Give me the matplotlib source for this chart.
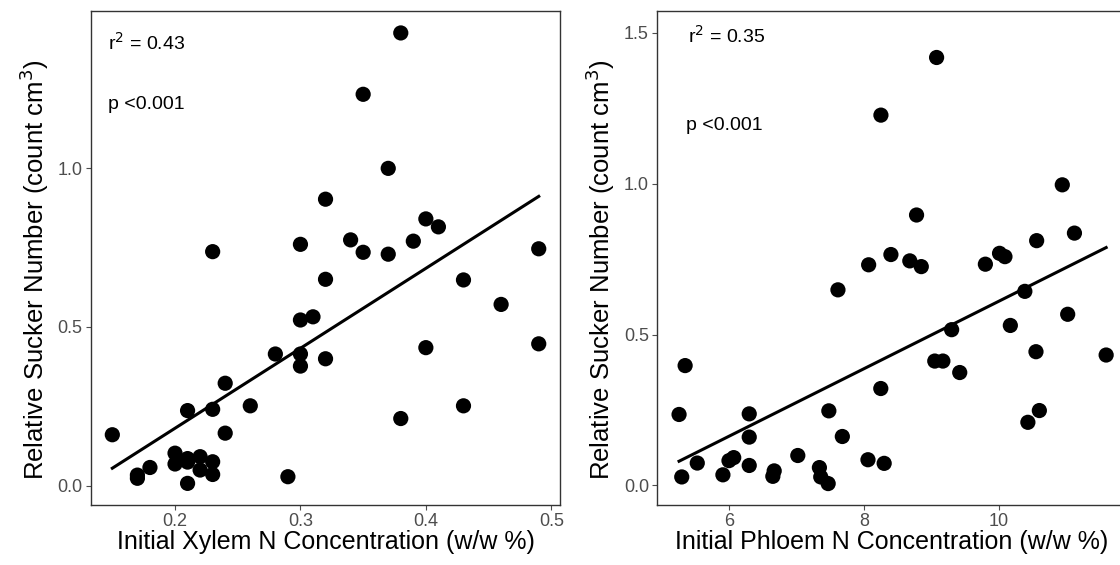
"""Relative sucker number vs initial xylem / phloem N concentration"""

import numpy as np
import matplotlib.pyplot as plt

plt.rcParams['font.family'] = ['Liberation Sans', 'DejaVu Sans']

# xylem panel
xylem_n = [0.380, 0.350, 0.370, 0.320, 0.400, 0.410, 0.230, 0.300, 0.340, 0.350,
           0.370, 0.390, 0.490, 0.320, 0.430, 0.460, 0.300, 0.310, 0.400, 0.490,
           0.280, 0.300, 0.300, 0.320, 0.240, 0.210, 0.230, 0.260, 0.430, 0.380,
           0.150, 0.240, 0.200, 0.200, 0.210, 0.210, 0.220, 0.220, 0.230, 0.230,
           0.180, 0.170, 0.170, 0.210, 0.290]
xylem_sucker = [1.425, 1.232, 0.999, 0.902, 0.840, 0.815, 0.737, 0.760, 0.774, 0.735,
                0.729, 0.770, 0.746, 0.650, 0.648, 0.571, 0.522, 0.532, 0.435, 0.447,
                0.415, 0.415, 0.377, 0.400, 0.323, 0.237, 0.241, 0.252, 0.252, 0.212,
                0.161, 0.166, 0.103, 0.069, 0.086, 0.075, 0.092, 0.050, 0.076, 0.036,
                0.058, 0.034, 0.024, 0.008, 0.029]

# phloem panel
phloem_n = [9.077, 8.252, 10.94, 8.78, 11.12, 10.56, 8.07, 8.40, 8.68, 8.85,
            9.80, 10.01, 10.09, 7.615, 10.385, 11.02, 10.17, 9.30, 10.55, 11.59,
            9.05, 9.17, 9.42, 5.35, 8.25, 5.26, 6.30, 7.48, 10.60, 10.43,
            6.30, 7.68, 7.02, 6.00, 6.07, 8.06, 8.30, 5.53, 6.30, 5.30,
            5.91, 6.67, 6.65, 7.34, 7.36, 7.47]
phloem_sucker = [1.418, 1.227, 0.996, 0.896, 0.836, 0.811, 0.731, 0.765, 0.744, 0.725,
                 0.733, 0.769, 0.758, 0.648, 0.643, 0.567, 0.530, 0.516, 0.443, 0.432,
                 0.412, 0.412, 0.374, 0.397, 0.321, 0.235, 0.237, 0.247, 0.248, 0.209,
                 0.160, 0.162, 0.099, 0.082, 0.092, 0.085, 0.073, 0.074, 0.066, 0.028,
                 0.035, 0.048, 0.030, 0.059, 0.028, 0.006]

TICK_GREY = '#4D4D4D'
FRAME = '#333333'


def panel(ax, x, y, xlabel, stats_xy, r2_text, xlim, ylim, xticks, yticks):
    ax.scatter(x, y, s=120, color='black', edgecolors='none', zorder=3)
    slope, intercept = np.polyfit(x, y, 1)
    xs = np.array([min(x), max(x)])
    ax.plot(xs, slope * xs + intercept, color='black', lw=2.2, zorder=2)
    ax.set_xlim(xlim)
    ax.set_ylim(ylim)
    ax.set_xticks(xticks)
    ax.set_yticks(yticks)
    ax.set_xlabel(xlabel, fontsize=18, labelpad=0)
    ax.set_ylabel('Relative Sucker Number (count cm$^3$)', fontsize=18.5,
                  labelpad=5, y=0.476)
    ax.tick_params(colors=TICK_GREY, labelsize=13, length=3.5, width=0.8, pad=2.5)
    for sp in ax.spines.values():
        sp.set_color(FRAME)
        sp.set_linewidth(1.0)
    (rx, ry), (px, py) = stats_xy
    ax.text(rx, ry, r2_text, fontsize=14, ha='left', va='center')
    ax.text(px, py, 'p <0.001', fontsize=14, ha='left', va='center')


fig = plt.figure(figsize=(11.2, 5.65), dpi=100)
ax1 = fig.add_axes([0.08125, 0.1062, 0.4188, 0.8743])
ax2 = fig.add_axes([0.5869, 0.1062, 0.4176, 0.8743])

panel(ax1, xylem_n, xylem_sucker, 'Initial Xylem N Concentration (w/w %)',
      ((0.1465, 1.393), (0.1465, 1.201)), 'r$^2$ = 0.43',
      (0.133, 0.507), (-0.06, 1.494), [0.2, 0.3, 0.4, 0.5], [0.0, 0.5, 1.0])
panel(ax2, phloem_n, phloem_sucker, 'Initial Phloem N Concentration (w/w %)',
      ((5.39, 1.489), (5.36, 1.194)), 'r$^2$ = 0.35',
      (4.938, 11.87), (-0.065, 1.572), [6, 8, 10], [0.0, 0.5, 1.0, 1.5])

fig.savefig('out.png', dpi=100)
